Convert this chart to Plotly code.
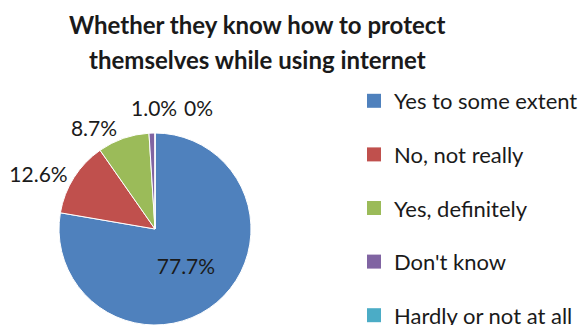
import plotly.graph_objects as go

categories = ["Yes to some extent", "No, not really", "Yes, definitely", "Don't know", "Hardly or not at all"]
values = [77.7, 12.6, 8.7, 1.0, 0.0]
colors = ["#4F81BD", "#C0504D", "#9BBB59", "#8064A2", "#4BACC6"]
title_lines = ["Whether they know how to protect", "themselves while using internet"]

def fmt(v):
    return "0%" if v == 0 else f"{v:.1f}%"

labels_txt = [fmt(v) for v in values]
FONT = "Lato, Open Sans, sans-serif"
TXT = "#1a1a1a"
LBL = 21

fig = go.Figure()
fig.add_trace(go.Pie(
    labels=categories, values=values, text=labels_txt,
    textinfo="text", sort=False, direction="clockwise", rotation=0,
    marker=dict(colors=colors, line=dict(color="white", width=1)),
    textposition=["inside", "outside", "outside", "none", "none"],
    insidetextorientation="horizontal",
    textfont=dict(family=FONT, size=LBL, color=TXT),
    outsidetextfont=dict(family=FONT, size=LBL, color=TXT),
    insidetextfont=dict(family=FONT, size=LBL, color=TXT),
    domain=dict(x=[59/582, 251/582], y=[0, 192/325]),
    showlegend=False, hoverinfo="label+percent",
))

# legend entries (one group each for spacing)
for c, col in zip(categories, colors):
    fig.add_trace(go.Scatter(
        x=[None], y=[None], mode="markers", name=c,
        marker=dict(symbol="square", size=14, color=col),
        legendgroup=c, showlegend=True,
    ))

# labels of the two thinnest slices
fig.add_annotation(text=labels_txt[3], x=154/582, y=1-107/325, xref="paper", yref="paper",
                   xanchor="center", yanchor="middle", showarrow=False,
                   font=dict(family=FONT, size=LBL, color=TXT))
fig.add_annotation(text=labels_txt[4], x=198/582, y=1-107/325, xref="paper", yref="paper",
                   xanchor="center", yanchor="middle", showarrow=False,
                   font=dict(family=FONT, size=LBL, color=TXT))

for i, (line, yc) in enumerate(zip(title_lines, [25, 59])):
    fig.add_annotation(text=f"<b>{line}</b>", x=257/582, y=1-yc/325,
                       xref="paper", yref="paper", xanchor="center", yanchor="middle",
                       showarrow=False, font=dict(family=FONT, size=24, color=TXT))

fig.update_layout(
    width=582, height=325, margin=dict(l=0, r=0, t=0, b=0, autoexpand=False),
    paper_bgcolor="white", plot_bgcolor="white",
    xaxis=dict(visible=False), yaxis=dict(visible=False),
    legend=dict(x=354/582, y=1-80/325, xanchor="left", yanchor="top",
                font=dict(family=FONT, size=22, color=TXT),
                tracegroupgap=22, itemwidth=30, bgcolor="rgba(0,0,0,0)",
                maxheight=600),
)
fig.write_html("out.html")
